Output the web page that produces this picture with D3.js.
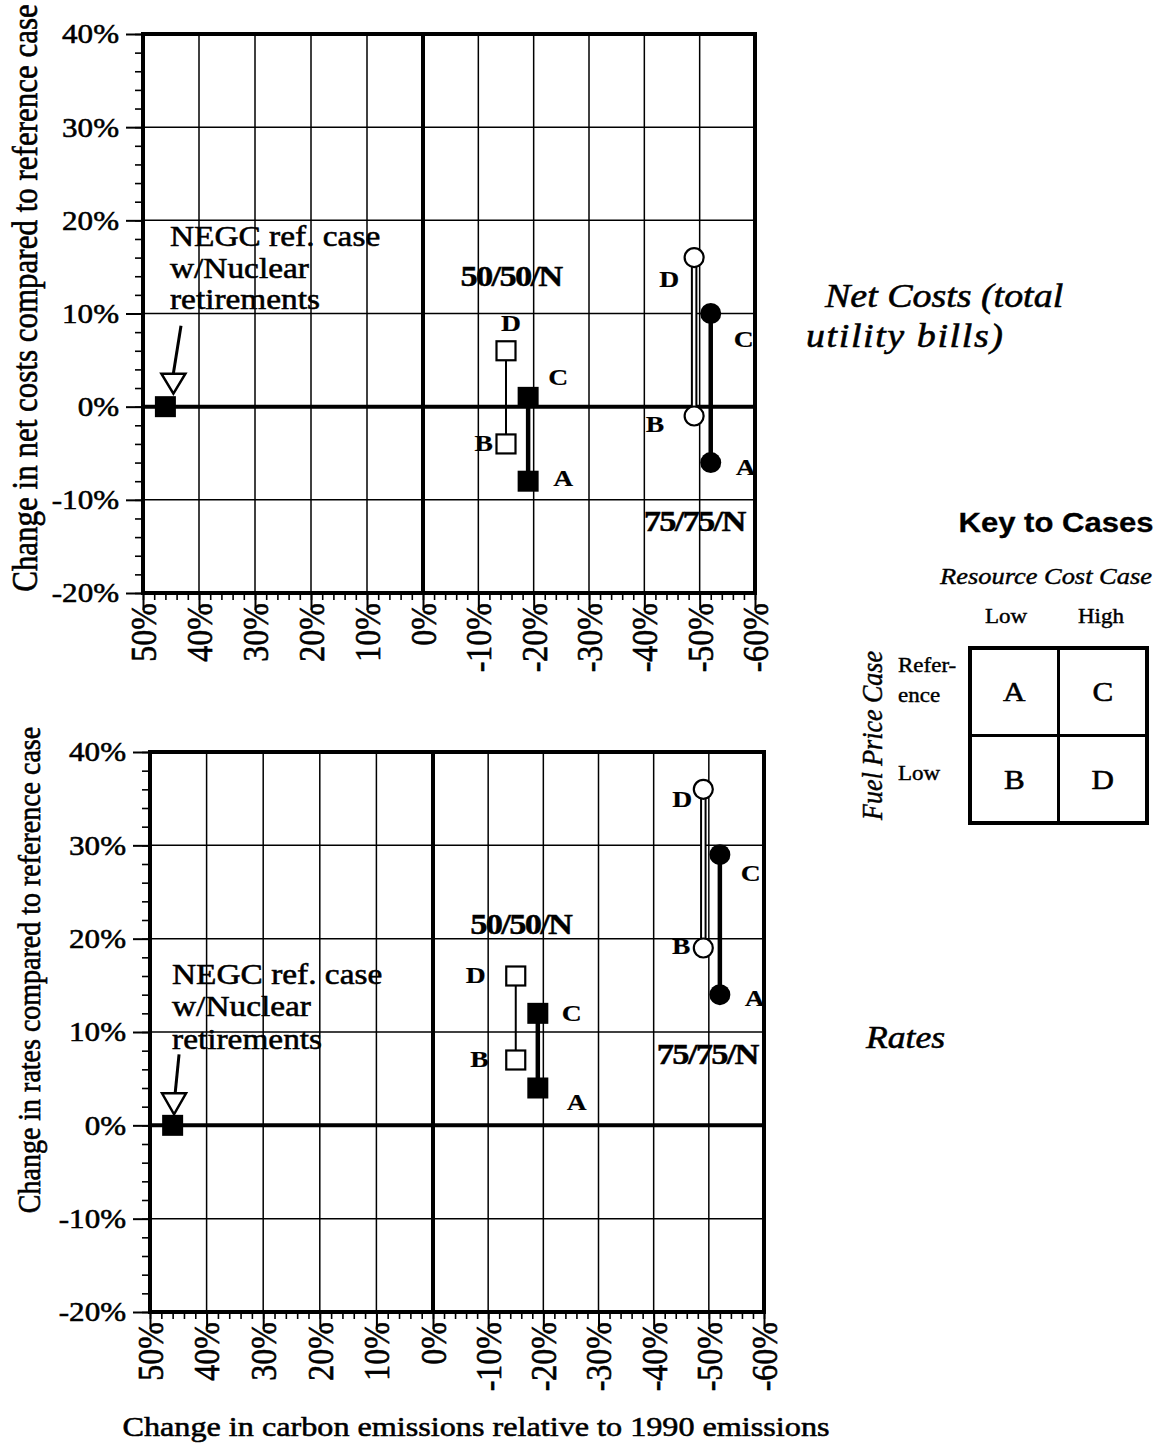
<!DOCTYPE html>
<html>
<head>
<meta charset="utf-8">
<script src="https://cdn.jsdelivr.net/npm/d3@7"></script>
<style>
  html, body { margin: 0; padding: 0; background: #fff; }
  svg { display: block; }
  text { font-family: "Liberation Serif", "Times New Roman", Times, serif; fill: #000; stroke: #000; stroke-width: 0.55px; }
</style>
</head>
<body>
<svg id="fig" width="1161" height="1448"></svg>
<script>
// ---------------- data ----------------
const xTickValues = [50, 40, 30, 20, 10, 0, -10, -20, -30, -40, -50, -60];
const yTickValues = [40, 30, 20, 10, 0, -10, -20];
const caseLetters = ["A", "B", "C", "D"];
// A and C use the reference fuel price (filled marks), B and D the low fuel price (open marks)
const caseFilled = [true, false, true, false];

// change in carbon emissions relative to 1990 (%), cases A..D
const emissions5050 = [-19, -15, -19, -15];
const emissions7575 = [-52, -49, -52, -49];

// change in net costs compared to reference case (%), cases A..D
const netCosts5050 = [-8, -4, 1, 6];
const netCosts7575 = [-6, -1, 10, 16];

// change in rates compared to reference case (%), cases A..D
const rates5050 = [4, 7, 12, 16];
const rates7575 = [14, 19, 29, 36];

// NEGC reference case with nuclear retirements
const negcEmissions = 46;
const negcNetCost = 0;
const negcRate = 0;

const negcLines = ["NEGC ref. case", "w/Nuclear", "retirements"];
const keyRows = ["Reference", "Low"];
const keyCols = ["Low", "High"];

// ---------------- drawing ----------------
const SX = 1.15;               // horizontal stretch used for all lettering
const svg = d3.select("#fig");
const pct = d => d + "%";

function label(g, x, y, str, o = {}) {
  const rot = o.rotate ? ` rotate(${o.rotate})` : "";
  return g.append("text")
    .attr("transform", `translate(${x},${y}) scale(${o.sx || SX},1)${rot}`)
    .attr("text-anchor", o.anchor || "start")
    .attr("dy", o.dy || null)
    .style("font-size", (o.size || 28) + "px")
    .style("font-weight", o.weight || "normal")
    .style("font-style", o.style || "normal")
    .style("font-family", o.family || null)
    .style("stroke-width", o.sw != null ? o.sw + "px" : null)
    .style("letter-spacing", o.ls != null ? o.ls + "px" : null)
    .text(str);
}

const panels = [
  {
    left: 143, zero: 423, right: 755, top: 34, bottom: 593,
    v5050: netCosts5050, v7575: netCosts7575, negc: negcNetCost,
    yTitle: "Change in net costs compared to reference case", yTitleX: 37, yTitleY: 298, yTitleSize: 31,
    lab5050: { A: [25, 5, "start"], B: [-13, 7, "end"], C: [20, -12, "start"], D: [5, -20, "middle"] },
    lab7575: { A: [25, 12, "start"], B: [-30, 16, "end"], C: [23, 33, "start"], D: [-15, 29, "end"] },
    grp5050: [5, 13.0], grp7575: [0, -13.3],
    negcText: [4.6, [-161, -129, -98]],
    arrow: { from: [15.6, -81], to: [7.6, -31], top: -33, tip: -13, cx: 8 }
  },
  {
    left: 150, zero: 433, right: 764, top: 752, bottom: 1312,
    v5050: rates5050, v7575: rates7575, negc: negcRate,
    yTitle: "Change in rates compared to reference case", yTitleX: 40, yTitleY: 970, yTitleSize: 28,
    lab5050: { A: [29, 22, "start"], B: [-27, 7, "end"], C: [24, 8, "start"], D: [-30, 7, "end"] },
    lab7575: { A: [25, 11, "start"], B: [-13, 6, "end"], C: [21, 26, "start"], D: [-11, 18, "end"] },
    grp5050: [5, 20.5], grp7575: [4, 6.6],
    negcText: [-0.6, [-141, -109, -76]],
    arrow: { from: [6.4, -71], to: [2.4, -31], top: -32, tip: -11, cx: 1.4 }
  }
];

panels.forEach(p => {
  const x = d3.scaleLinear().domain([50, 0, -60]).range([p.left, p.zero, p.right]);
  const y = d3.scaleLinear().domain([40, -20]).range([p.top, p.bottom]);
  const g = svg.append("g");

  // grid
  g.append("g").selectAll("line").data(xTickValues.filter(v => v !== 50 && v !== -60 && v !== 0))
    .join("line")
    .attr("x1", d => x(d)).attr("x2", d => x(d)).attr("y1", p.top).attr("y2", p.bottom)
    .attr("stroke", "#000").attr("stroke-width", 1.5);
  g.append("g").selectAll("line").data(yTickValues.filter(v => v !== 40 && v !== -20 && v !== 0))
    .join("line")
    .attr("x1", p.left).attr("x2", p.right).attr("y1", d => y(d)).attr("y2", d => y(d))
    .attr("stroke", "#000").attr("stroke-width", 1.5);

  // zero lines
  g.append("line").attr("x1", x(0)).attr("x2", x(0)).attr("y1", p.top).attr("y2", p.bottom)
    .attr("stroke", "#000").attr("stroke-width", 4);
  g.append("line").attr("x1", p.left).attr("x2", p.right).attr("y1", y(0)).attr("y2", y(0))
    .attr("stroke", "#000").attr("stroke-width", 4);

  // axes ticks (major + minor)
  const styleAxis = (sel, w) => {
    sel.select(".domain").remove();
    sel.selectAll(".tick line").attr("stroke", "#000").attr("stroke-width", w);
    sel.selectAll(".tick text").remove();
  };
  g.append("g").attr("transform", `translate(${p.left},0)`)
    .call(d3.axisLeft(y).tickValues(d3.range(-20, 41, 2)).tickSize(8).tickFormat(""))
    .call(s => styleAxis(s, 1.6));
  g.append("g").attr("transform", `translate(${p.left},0)`)
    .call(d3.axisLeft(y).tickValues(yTickValues).tickSize(17).tickFormat(""))
    .call(s => styleAxis(s, 2));
  g.append("g").attr("transform", `translate(0,${p.bottom})`)
    .call(d3.axisBottom(x).tickValues(d3.range(50, -61, -2)).tickSize(7).tickFormat(""))
    .call(s => styleAxis(s, 1.6));
  g.append("g").attr("transform", `translate(0,${p.bottom})`)
    .call(d3.axisBottom(x).tickValues(xTickValues).tickSize(17).tickFormat(""))
    .call(s => styleAxis(s, 2));

  // frame
  g.append("rect").attr("x", p.left).attr("y", p.top)
    .attr("width", p.right - p.left).attr("height", p.bottom - p.top)
    .attr("fill", "none").attr("stroke", "#000").attr("stroke-width", 4);

  // tick labels
  yTickValues.forEach(v => label(g, p.left - 24, y(v), pct(v), { anchor: "end", dy: "0.35em", size: 27 }));
  xTickValues.forEach(v => label(g, x(v), p.bottom + 10, pct(v), { anchor: "end", dy: "0.35em", size: 32, rotate: -90 }));

  // y axis title
  label(g, p.yTitleX, p.yTitleY, p.yTitle, { anchor: "middle", size: p.yTitleSize, rotate: -90 });

  // scenario series: connectors then markers
  const series = [
    { name: "50/50/N", em: emissions5050, val: p.v5050, shape: "square", lab: p.lab5050, grp: p.grp5050, openHollow: false },
    { name: "75/75/N", em: emissions7575, val: p.v7575, shape: "circle", lab: p.lab7575, grp: p.grp7575, openHollow: true }
  ];
  series.forEach(s => {
    const pts = caseLetters.map((c, i) => ({ c, filled: caseFilled[i], x: x(s.em[i]), y: y(s.val[i]) }));
    const byC = Object.fromEntries(pts.map(d => [d.c, d]));
    // filled pair A–C
    g.append("line").attr("x1", byC.A.x).attr("x2", byC.C.x).attr("y1", byC.A.y).attr("y2", byC.C.y)
      .attr("stroke", "#000").attr("stroke-width", 4.5);
    // open pair B–D
    if (s.openHollow) {
      g.append("line").attr("x1", byC.B.x).attr("x2", byC.D.x).attr("y1", byC.B.y).attr("y2", byC.D.y)
        .attr("stroke", "#000").attr("stroke-width", 6.5);
      g.append("line").attr("x1", byC.B.x).attr("x2", byC.D.x).attr("y1", byC.B.y).attr("y2", byC.D.y)
        .attr("stroke", "#fff").attr("stroke-width", 2.5);
    } else {
      g.append("line").attr("x1", byC.B.x).attr("x2", byC.D.x).attr("y1", byC.B.y).attr("y2", byC.D.y)
        .attr("stroke", "#000").attr("stroke-width", 2);
    }
    pts.forEach(d => {
      if (s.shape === "square") {
        const sz = d.filled ? 21 : 19;
        g.append("rect").attr("x", d.x - sz / 2).attr("y", d.y - sz / 2).attr("width", sz).attr("height", sz)
          .attr("fill", d.filled ? "#000" : "#fff").attr("stroke", "#000").attr("stroke-width", d.filled ? 0 : 2.2);
      } else {
        g.append("circle").attr("cx", d.x).attr("cy", d.y).attr("r", d.filled ? 10.5 : 9.5)
          .attr("fill", d.filled ? "#000" : "#fff").attr("stroke", "#000").attr("stroke-width", d.filled ? 0 : 2.2);
      }
      const o = s.lab[d.c];
      label(g, d.x + o[0], d.y + o[1], d.c, { anchor: o[2], size: 24, weight: "bold", sw: 0.2 });
    });
    // scenario name
    label(g, x(s.em[1]) + s.grp[0], y(s.grp[1]), s.name, { anchor: "middle", size: 30, weight: "bold", ls: -1.5, sw: 0.4 });
  });

  // NEGC reference point with annotation arrow
  const mx = x(negcEmissions), my = y(p.negc);
  negcLines.forEach((t, i) => label(g, mx + p.negcText[0], my + p.negcText[1][i], t, { size: 29 }));
  const a = p.arrow;
  g.append("line").attr("x1", mx + a.from[0]).attr("y1", my + a.from[1])
    .attr("x2", mx + a.to[0]).attr("y2", my + a.to[1]).attr("stroke", "#000").attr("stroke-width", 3);
  g.append("path")
    .attr("d", d3.line()([[mx + a.cx - 12, my + a.top], [mx + a.cx + 12, my + a.top], [mx + a.cx, my + a.tip]]) + "Z")
    .attr("fill", "#fff").attr("stroke", "#000").attr("stroke-width", 2.5).attr("stroke-linejoin", "miter");
  g.append("rect").attr("x", mx - 10.5).attr("y", my - 10.5).attr("width", 21).attr("height", 21).attr("fill", "#000");
});

// x axis title
label(svg, 476, 1436, "Change in carbon emissions relative to 1990 emissions", { anchor: "middle", size: 28 });

// panel captions
label(svg, 825, 307, "Net Costs (total", { size: 33, style: "italic" });
label(svg, 806, 347, "utility bills)", { size: 33, style: "italic", ls: 1.4 });
label(svg, 866, 1048, "Rates", { size: 31, style: "italic" });

// key to cases
const key = svg.append("g");
label(key, 1056, 532, "Key to Cases", { anchor: "middle", size: 27, weight: "bold", sw: 0.3, family: "'Liberation Sans', Arial, sans-serif" });
label(key, 1046, 584, "Resource Cost Case", { anchor: "middle", size: 23, style: "italic", sw: 0.4 });
const kx = d3.scaleBand().domain(keyCols).range([970, 1147]);
const ky = d3.scaleBand().domain(keyRows).range([648, 823]);
label(key, 1006, 623, keyCols[0], { anchor: "middle", size: 20, sw: 0.4 });
label(key, 1101, 623, keyCols[1], { anchor: "middle", size: 20, sw: 0.4 });
label(key, 898, 672, "Refer-", { size: 20, sw: 0.4 });
label(key, 898, 702, "ence", { size: 20, sw: 0.4 });
label(key, 898, 780, "Low", { size: 20, sw: 0.4 });
label(key, 882, (648 + 823) / 2, "Fuel Price Case", { anchor: "middle", size: 26, style: "italic", rotate: -90, sw: 0.4 });
key.append("line").attr("x1", kx("High")).attr("x2", kx("High")).attr("y1", 648).attr("y2", 823).attr("stroke", "#000").attr("stroke-width", 3);
key.append("line").attr("x1", 970).attr("x2", 1147).attr("y1", ky("Low")).attr("y2", ky("Low")).attr("stroke", "#000").attr("stroke-width", 3);
key.append("rect").attr("x", 970).attr("y", 648).attr("width", 177).attr("height", 175)
  .attr("fill", "none").attr("stroke", "#000").attr("stroke-width", 4);
const cellLetter = { Reference: { Low: "A", High: "C" }, Low: { Low: "B", High: "D" } };
keyRows.forEach(r => keyCols.forEach(c => {
  label(key, kx(c) + kx.bandwidth() / 2, ky(r) + ky.bandwidth() / 2, cellLetter[r][c], { anchor: "middle", dy: "0.35em", size: 27 });
}));
</script>
</body>
</html>
